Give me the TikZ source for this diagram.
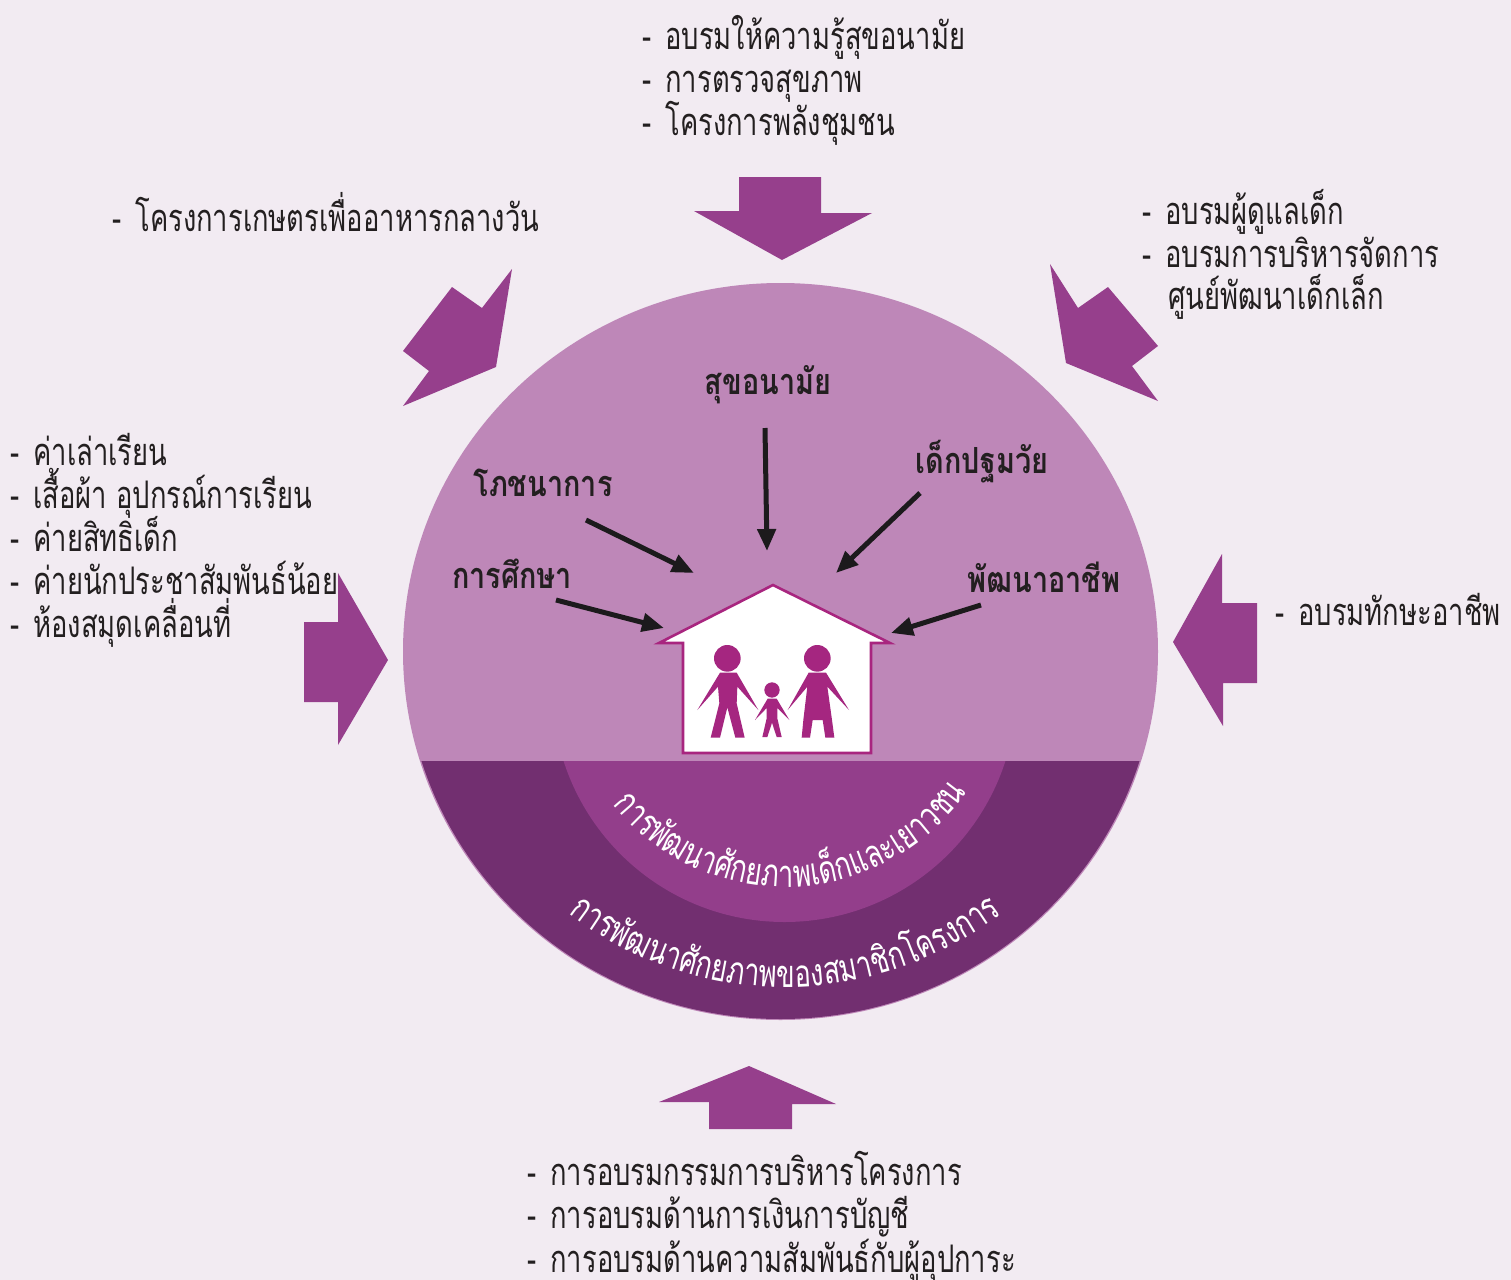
\documentclass[tikz,border=0pt]{standalone}
\usepackage{fontspec}
\usetikzlibrary{arrows.meta,decorations.text,calc}
\newfontfamily\thai[Script=Thai,FakeStretch=0.72]{Loma}
\newfontfamily\thaib[Script=Thai,FakeStretch=0.8]{Loma}
\definecolor{bg}{HTML}{F2EBF2}
\definecolor{lightp}{HTML}{BE87B8}
\definecolor{darkp}{HTML}{722F70}
\definecolor{midp}{HTML}{933E8B}
\definecolor{arw}{HTML}{963F8C}
\definecolor{hse}{HTML}{A8257F}
\definecolor{fig}{HTML}{A52680}
\definecolor{blk}{HTML}{1C1A1C}
\definecolor{txt}{HTML}{231F20}
\newcommand{\dsh}{\makebox[11.5pt][l]{-}}
\begin{document}
\begin{tikzpicture}[x=0.5pt,y=-0.5pt,
  listtxt/.style={anchor=base west, inner sep=0pt, text=txt, font=\thai\fontsize{19}{22}\selectfont},
  lbl/.style={anchor=base, inner sep=0pt, text=txt, font=\thaib\bfseries\fontsize{18}{22}\selectfont},
  bigarrow/.style={fill=arw},
  ptr/.style={draw=blk, line width=2.5pt, -{Triangle[length=11pt,width=9pt]}}]
\useasboundingbox (0,0) rectangle (1511,1280);
\fill[bg] (0,0) rectangle (1511,1280);
% main disc
\fill[lightp] (780.5,651.5) ellipse [x radius=377.5, y radius=368.5];
\begin{scope}
  \clip (0,761) rectangle (1511,1280);
  \fill[darkp] (780.5,651.5) ellipse [x radius=376, y radius=367.5];
  \fill[midp] (784.5,690) circle [radius=232];
\end{scope}
% big arrows
\fill[bigarrow] (739,177) -- (821,177) -- (821,213) -- (872,213) -- (782,260) -- (694,211) -- (739,211) -- cycle;
\fill[bigarrow] (452,287) -- (482,308) -- (512,269) -- (496,367) -- (403,406) -- (429,371) -- (403,351) -- cycle;
\fill[bigarrow] (1108,287) -- (1078,308) -- (1050,264) -- (1066,363) -- (1158,401) -- (1132,366) -- (1158,346) -- cycle;
\fill[bigarrow] (338,573) -- (338,622) -- (304,622) -- (304,702) -- (338,702) -- (338,745) -- (388,660) -- cycle;
\fill[bigarrow] (1222,554) -- (1222,603) -- (1257,603) -- (1257,683) -- (1223,683) -- (1223,726) -- (1173,642) -- cycle;
\fill[bigarrow] (749,1066) -- (836,1104) -- (792,1104) -- (792,1129) -- (709,1129) -- (709,1102) -- (659,1102) -- cycle;
% house
\filldraw[draw=hse, line width=1.3pt, fill=white] (773,585) -- (890,643) -- (871,643) -- (871,753) -- (683,753) -- (683,643) -- (659,643) -- cycle;
\begin{scope}[shift={(640,570)}, x=0.166667pt, y=-0.166667pt]
  \fill[fig] (262,265) circle [radius=40];
  \fill[fig] (240,308) -- (172,420) -- (234,350) -- (238,400) -- (212,503) -- (240,503) -- (262,412) -- (286,503) -- (314,503) -- (290,400) -- (292,350) -- (355,420) -- (290,308) -- cycle;
  \fill[fig] (532,265) circle [radius=40];
  \fill[fig] (506,308) -- (443,420) -- (502,350) -- (490,450) -- (485,503) -- (510,503) -- (518,450) -- (548,450) -- (556,503) -- (583,503) -- (576,450) -- (562,350) -- (627,420) -- (558,308) -- cycle;
  \fill[fig] (396,360) circle [radius=23];
  \fill[fig] (383,386) -- (345,450) -- (380,414) -- (380,445) -- (367,501) -- (382,501) -- (396,458) -- (410,501) -- (425,501) -- (412,445) -- (412,414) -- (448,450) -- (410,386) -- cycle;
\end{scope}
% inner labels
\node[lbl] (sukh) at (768,394) {สุขอนามัย};
\node[lbl] (phot) at (543,496) {โภชนาการ};
\node[lbl] (dek)  at (982,473) {เด็กปฐมวัย};
\node[lbl] (suek) at (512,588) {การศึกษา};
\node[lbl] (achi) at (1044,592) {พัฒนาอาชีพ};
% pointer arrows
\coordinate (a1s) at (765,428); \coordinate (a1e) at (767,551);
\coordinate (a2s) at (586,520); \coordinate (a2e) at (694,573);
\coordinate (a3s) at (920,493); \coordinate (a3e) at (836,573);
\coordinate (a4s) at (556,600); \coordinate (a4e) at (664,628);
\coordinate (a5s) at (981,605); \coordinate (a5e) at (891,633);
\draw[ptr] (a1s) -- (a1e);
\draw[ptr] (a2s) -- (a2e);
\draw[ptr] (a3s) -- (a3e);
\draw[ptr] (a4s) -- (a4e);
\draw[ptr] (a5s) -- (a5e);
% curved texts
\path[decorate, decoration={text along path, text align=center,
  text={|\thai\fontsize{19}{22}\selectfont\color{white}|{ก}{า}{ร}{พั}{ฒ}{น}{า}{ศั}{ก}{ย}{ภ}{า}{พ}{เ}{ด็}{ก}{แ}{ล}{ะ}{เ}{ย}{า}{ว}{ช}{น}}}]
  ($(785,665)+(160:222)$) arc [start angle=160, end angle=16, radius=222];
\path[decorate, decoration={text along path, text align=center,
  text={|\thai\fontsize{19}{22}\selectfont\color{white}|{ก}{า}{ร}{พั}{ฒ}{น}{า}{ศั}{ก}{ย}{ภ}{า}{พ}{ข}{อ}{ง}{ส}{ม}{า}{ชิ}{ก}{โ}{ค}{ร}{ง}{ก}{า}{ร}}}]
  ($(785,631)+(150:356)$) arc [start angle=150, end angle=30, radius=356];
% outer lists
\node[listtxt] (t1) at (642,49) {\dsh อบรมให้ความรู้สุขอนามัย};
\node[listtxt] (t2) at (642,92) {\dsh การตรวจสุขภาพ};
\node[listtxt] (t3) at (642,135) {\dsh โครงการพลังชุมชน};
\node[listtxt] (ul1) at (112,231) {\dsh โครงการเกษตรเพื่ออาหารกลางวัน};
\node[listtxt] (ur1) at (1142,224) {\dsh อบรมผู้ดูแลเด็ก};
\node[listtxt] (ur2) at (1142,267) {\dsh อบรมการบริหารจัดการ};
\node[listtxt] (ur3) at (1168,309) {ศูนย์พัฒนาเด็กเล็ก};
\node[listtxt] (l1) at (10,465) {\dsh ค่าเล่าเรียน};
\node[listtxt] (l2) at (10,508) {\dsh เสื้อผ้า อุปกรณ์การเรียน};
\node[listtxt] (l3) at (10,551) {\dsh ค่ายสิทธิเด็ก};
\node[listtxt] (l4) at (10,594) {\dsh ค่ายนักประชาสัมพันธ์น้อย};
\node[listtxt] (l5) at (10,637) {\dsh ห้องสมุดเคลื่อนที่};
\node[listtxt] (r1) at (1275,625) {\dsh อบรมทักษะอาชีพ};
\node[listtxt] (b1) at (527,1185) {\dsh การอบรมกรรมการบริหารโครงการ};
\node[listtxt] (b2) at (527,1228) {\dsh การอบรมด้านการเงินการบัญชี};
\node[listtxt] (b3) at (527,1272) {\dsh การอบรมด้านความสัมพันธ์กับผู้อุปการะ};
\end{tikzpicture}
\end{document}
